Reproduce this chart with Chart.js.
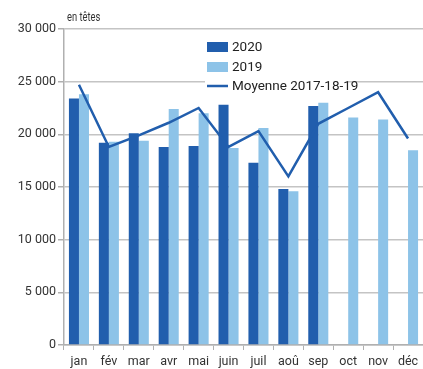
<!DOCTYPE html>
<html>
<head>
<meta charset="utf-8">
<script src="https://cdn.jsdelivr.net/npm/chart.js@4"></script>
<style>
  html, body { margin: 0; padding: 0; background: #fff; }
  #wrap { width: 423px; height: 369px; position: relative; }
</style>
</head>
<body>
<div id="wrap"><canvas id="chart"></canvas></div>
<script>
const months = ["jan", "fév", "mar", "avr", "mai", "juin", "juil", "aoû", "sep", "oct", "nov", "déc"];
const values2020 = [23400, 19200, 20100, 18800, 18900, 22800, 17300, 14800, 22700, null, null, null];
const values2019 = [23800, 19300, 19400, 22400, 22000, 18700, 20600, 14600, 23000, 21600, 21400, 18500];
const average3y = [24700, 18800, 19900, 21100, 22500, 18800, 20300, 16000, 21000, 22500, 24000, 19600];
const yTicks = [0, 5000, 10000, 15000, 20000, 25000, 30000];

const dark = "#215ead";
const light = "#8dc3e8";
const FONT = "Roboto, sans-serif";

function fmt(v) {
  return String(v).replace(/\B(?=(\d{3})+(?!\d))/g, " ");
}

// legend box + unit label, drawn on top of the grid
const overlay = {
  id: "overlay",
  afterDraw(chart) {
    const ctx = chart.ctx;
    ctx.save();
    ctx.textBaseline = "middle";

    // narrow "en têtes" caption above the y axis
    ctx.save();
    ctx.font = "13px " + FONT;
    ctx.fillStyle = "#333";
    ctx.translate(67, 18);
    ctx.scale(0.72, 1);
    ctx.fillText("en têtes", 0, 0);
    ctx.restore();

    ctx.fillStyle = "#fff";
    ctx.fillRect(205, 37, 143, 56);
    ctx.font = "13.5px " + FONT;
    const x = 207, rows = [47, 67, 86];
    chart.data.datasets.forEach((ds, i) => {
      const y = rows[i];
      if (ds.type === "line") {
        ctx.strokeStyle = ds.borderColor;
        ctx.lineWidth = 2.5;
        ctx.beginPath();
        ctx.moveTo(x, y);
        ctx.lineTo(x + 21, y);
        ctx.stroke();
      } else {
        ctx.fillStyle = ds.backgroundColor;
        ctx.fillRect(x, y - 5, 21, 10);
      }
      ctx.fillStyle = "#222";
      ctx.fillText(ds.label, x + 25, y + 1);
    });
    ctx.restore();
  }
};

new Chart(document.getElementById("chart"), {
  data: {
    labels: months,
    datasets: [
      {
        type: "bar",
        label: "2020",
        data: values2020,
        backgroundColor: dark,
        categoryPercentage: 0.67,
        barPercentage: 1,
        order: 2
      },
      {
        type: "bar",
        label: "2019",
        data: values2019,
        backgroundColor: light,
        categoryPercentage: 0.67,
        barPercentage: 1,
        order: 2
      },
      {
        type: "line",
        label: "Moyenne 2017-18-19",
        data: average3y,
        borderColor: dark,
        borderWidth: 2.5,
        pointRadius: 0,
        tension: 0,
        order: 1
      }
    ]
  },
  options: {
    responsive: true,
    maintainAspectRatio: false,
    animation: false,
    layout: { padding: { top: 29, right: 0, left: 0, bottom: 0 } },
    plugins: {
      legend: { display: false },
      tooltip: { enabled: false }
    },
    scales: {
      x: {
        offset: true,
        grid: {
          offset: true,
          drawOnChartArea: false,
          drawTicks: true,
          tickLength: 5,
          color: "#b0b0b0"
        },
        border: { color: "#b0b0b0", width: 1.5 },
        ticks: {
          color: "#333",
          font: { family: FONT, size: 12.5 },
          padding: 4,
          maxRotation: 0,
          autoSkip: false
        },
        afterFit(axis) { axis.height = 24; }
      },
      y: {
        min: 0,
        max: 30000,
        afterBuildTicks(axis) {
          axis.ticks = yTicks.map(v => ({ value: v }));
        },
        grid: {
          color: "#c4c4c4",
          tickColor: "#b0b0b0",
          lineWidth: 1.5,
          drawTicks: true,
          tickLength: 6
        },
        border: { color: "#b0b0b0", width: 1.5 },
        ticks: {
          color: "#333",
          font: { family: FONT, size: 12.5 },
          padding: 2,
          callback: v => fmt(v)
        },
        afterFit(axis) { axis.width = 64; }
      }
    }
  },
  plugins: [overlay]
});
</script>
</body>
</html>
